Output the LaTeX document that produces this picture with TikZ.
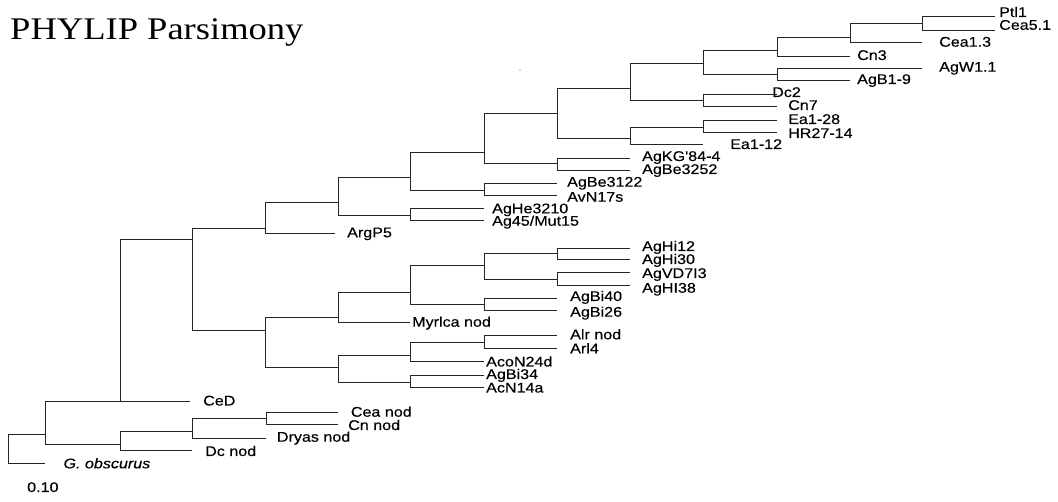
\documentclass[tikz,border=0pt]{standalone}
\usepackage{fontspec}
\setmainfont{Liberation Sans}
\newfontfamily\labfont[FakeStretch=1.15,FakeBold=0.3]{Liberation Sans}
\newfontfamily\titlefont[FakeStretch=1.16]{Liberation Serif}
\begin{document}
\begin{tikzpicture}[x=1pt,y=-1pt,
  br/.style={line width=0.8pt, draw=black!85},
  lab/.style={anchor=base west, inner sep=0pt, font=\labfont\fontsize{14}{16}\selectfont},
  titl/.style={anchor=base west, inner sep=0pt, font=\titlefont\fontsize{31.5}{33}\selectfont}]
\useasboundingbox (0,0) rectangle (1058,502);
\fill[white] (0,0) rectangle (1058,502);

% internal nodes (x, attachment y)
\coordinate (A1) at (922,23);
\coordinate (A2) at (850,37);
\coordinate (A3) at (777,50);
\coordinate (A4) at (777,74);
\coordinate (A5) at (703,63);
\coordinate (A6) at (703,100);
\coordinate (A7) at (630,88);
\coordinate (A8) at (703,127);
\coordinate (A9) at (630,138);
\coordinate (A10) at (557,113);
\coordinate (A11) at (557,163);
\coordinate (A12) at (484,152);
\coordinate (A13) at (484,190);
\coordinate (A14) at (410,177);
\coordinate (A15) at (410,215);
\coordinate (A16) at (338,202);
\coordinate (A17) at (265,228);
\coordinate (B1) at (557,253);
\coordinate (B2) at (557,279);
\coordinate (B3) at (484,265);
\coordinate (B4) at (484,304);
\coordinate (B5) at (410,292);
\coordinate (B6) at (338,317);
\coordinate (B7) at (484,342);
\coordinate (B8) at (410,355);
\coordinate (B9) at (410,382);
\coordinate (B10) at (338,367);
\coordinate (B11) at (265,330);
\coordinate (B12) at (192,239);
\coordinate (R1) at (120,401);
\coordinate (C1) at (266,418);
\coordinate (C2) at (192,431);
\coordinate (C3) at (120,444);
\coordinate (R2) at (45,434);
\coordinate (R0) at (8,434);

% leaf tips
\coordinate (tPtl) at (995,16);
\coordinate (tCeaFive) at (995,30);
\coordinate (tCeaOne) at (922,42);
\coordinate (tCnThree) at (850,56);
\coordinate (tAgW) at (922,68);
\coordinate (tAgB) at (850,80);
\coordinate (tDc) at (777,94);
\coordinate (tCnSeven) at (777,106);
\coordinate (tEaA) at (777,120);
\coordinate (tHR) at (777,132);
\coordinate (tEaB) at (703,144);
\coordinate (tAgKG) at (630,158);
\coordinate (tAgBeA) at (630,170);
\coordinate (tAgBeB) at (557,183);
\coordinate (tAvN) at (557,195);
\coordinate (tAgHe) at (484,208);
\coordinate (tAgFF) at (484,220);
\coordinate (tArgP) at (335,233);
\coordinate (tHiA) at (630,248);
\coordinate (tHiB) at (630,259);
\coordinate (tVD) at (630,272);
\coordinate (tHI) at (630,285);
\coordinate (tBiA) at (557,298);
\coordinate (tBiB) at (557,310);
\coordinate (tMyr) at (410,322);
\coordinate (tAlr) at (557,335);
\coordinate (tArl) at (557,348);
\coordinate (tAco) at (484,361);
\coordinate (tBiC) at (484,375);
\coordinate (tAcN) at (484,387);
\coordinate (tCeD) at (190,401);
\coordinate (tCeaN) at (338,412);
\coordinate (tCnN) at (338,424);
\coordinate (tDry) at (266,438);
\coordinate (tDcN) at (192,450);
\coordinate (tGob) at (45,463);

% branches: child -| parent
\foreach \c/\p in {tPtl/A1, tCeaFive/A1, A1/A2, tCeaOne/A2, A2/A3, tCnThree/A3,
  tAgW/A4, tAgB/A4, A3/A5, A4/A5, tDc/A6, tCnSeven/A6, A5/A7, A6/A7,
  tEaA/A8, tHR/A8, A8/A9, tEaB/A9, A7/A10, A9/A10, tAgKG/A11, tAgBeA/A11,
  A10/A12, A11/A12, tAgBeB/A13, tAvN/A13, A12/A14, A13/A14,
  tAgHe/A15, tAgFF/A15, A14/A16, A15/A16, A16/A17, tArgP/A17,
  tHiA/B1, tHiB/B1, tVD/B2, tHI/B2, B1/B3, B2/B3, tBiA/B4, tBiB/B4,
  B3/B5, B4/B5, B5/B6, tMyr/B6, tAlr/B7, tArl/B7, B7/B8, tAco/B8,
  tBiC/B9, tAcN/B9, B8/B10, B9/B10, B6/B11, B10/B11, A17/B12, B11/B12,
  B12/R1, tCeD/R1, tCeaN/C1, tCnN/C1, C1/C2, tDry/C2, C2/C3, tDcN/C3,
  R1/R2, C3/R2, R2/R0, tGob/R0}
  \draw[br] (\c) -| (\p);

% stray dot
\fill[black!60] (520,70) circle (0.7);

% labels
\node[titl] (title) at (10,39.3) {PHYLIP Parsimony};
\node[lab] (lPtl) at (999,17) {Ptl1};
\node[lab] (lCeaFive) at (999,29.8) {Cea5.1};
\node[lab] (lCeaOne) at (939,46.7) {Cea1.3};
\node[lab] (lCnThree) at (857,60) {Cn3};
\node[lab] (lAgW) at (939,71.7) {AgW1.1};
\node[lab] (lAgB) at (857,84) {AgB1-9};
\node[lab] (lDc) at (772,97) {Dc2};
\node[lab] (lCnSeven) at (788,110) {Cn7};
\node[lab] (lEaA) at (788,124) {Ea1-28};
\node[lab] (lHR) at (788,138) {HR27-14};
\node[lab] (lEaB) at (730,149) {Ea1-12};
\node[lab] (lAgKG) at (642,161) {AgKG'84-4};
\node[lab] (lAgBeA) at (642,174) {AgBe3252};
\node[lab] (lAgBeB) at (567,186.7) {AgBe3122};
\node[lab] (lAvN) at (567,201.7) {AvN17s};
\node[lab] (lAgHe) at (492,213.3) {AgHe3210};
\node[lab] (lAgFF) at (492,225.7) {Ag45/Mut15};
\node[lab] (lArgP) at (347,237.3) {ArgP5};
\node[lab] (lHiA) at (642,251) {AgHi12};
\node[lab] (lHiB) at (642,264) {AgHi30};
\node[lab] (lVD) at (642,278) {AgVD7I3};
\node[lab] (lHI) at (642,292.7) {AgHI38};
\node[lab] (lBiA) at (570,301) {AgBi40};
\node[lab] (lBiB) at (570,316.7) {AgBi26};
\node[lab] (lMyr) at (412,326.7) {Myrlca nod};
\node[lab] (lAlr) at (570,339.3) {Alr nod};
\node[lab] (lArl) at (570,353.3) {Arl4};
\node[lab] (lAco) at (486,366.5) {AcoN24d};
\node[lab] (lBiC) at (486,379) {AgBi34};
\node[lab] (lAcN) at (486,392.5) {AcN14a};
\node[lab] (lCeD) at (203,405.5) {CeD};
\node[lab] (lCeaN) at (350.7,416.7) {Cea nod};
\node[lab] (lCnN) at (348,430) {Cn nod};
\node[lab] (lDry) at (276.7,441.7) {Dryas nod};
\node[lab] (lDcN) at (205,456) {Dc nod};
\node[lab] (lGob) at (63.3,468.3) {\itshape G. obscurus};
\node[lab] (lScale) at (27,492) {0.10};
\end{tikzpicture}
\end{document}
